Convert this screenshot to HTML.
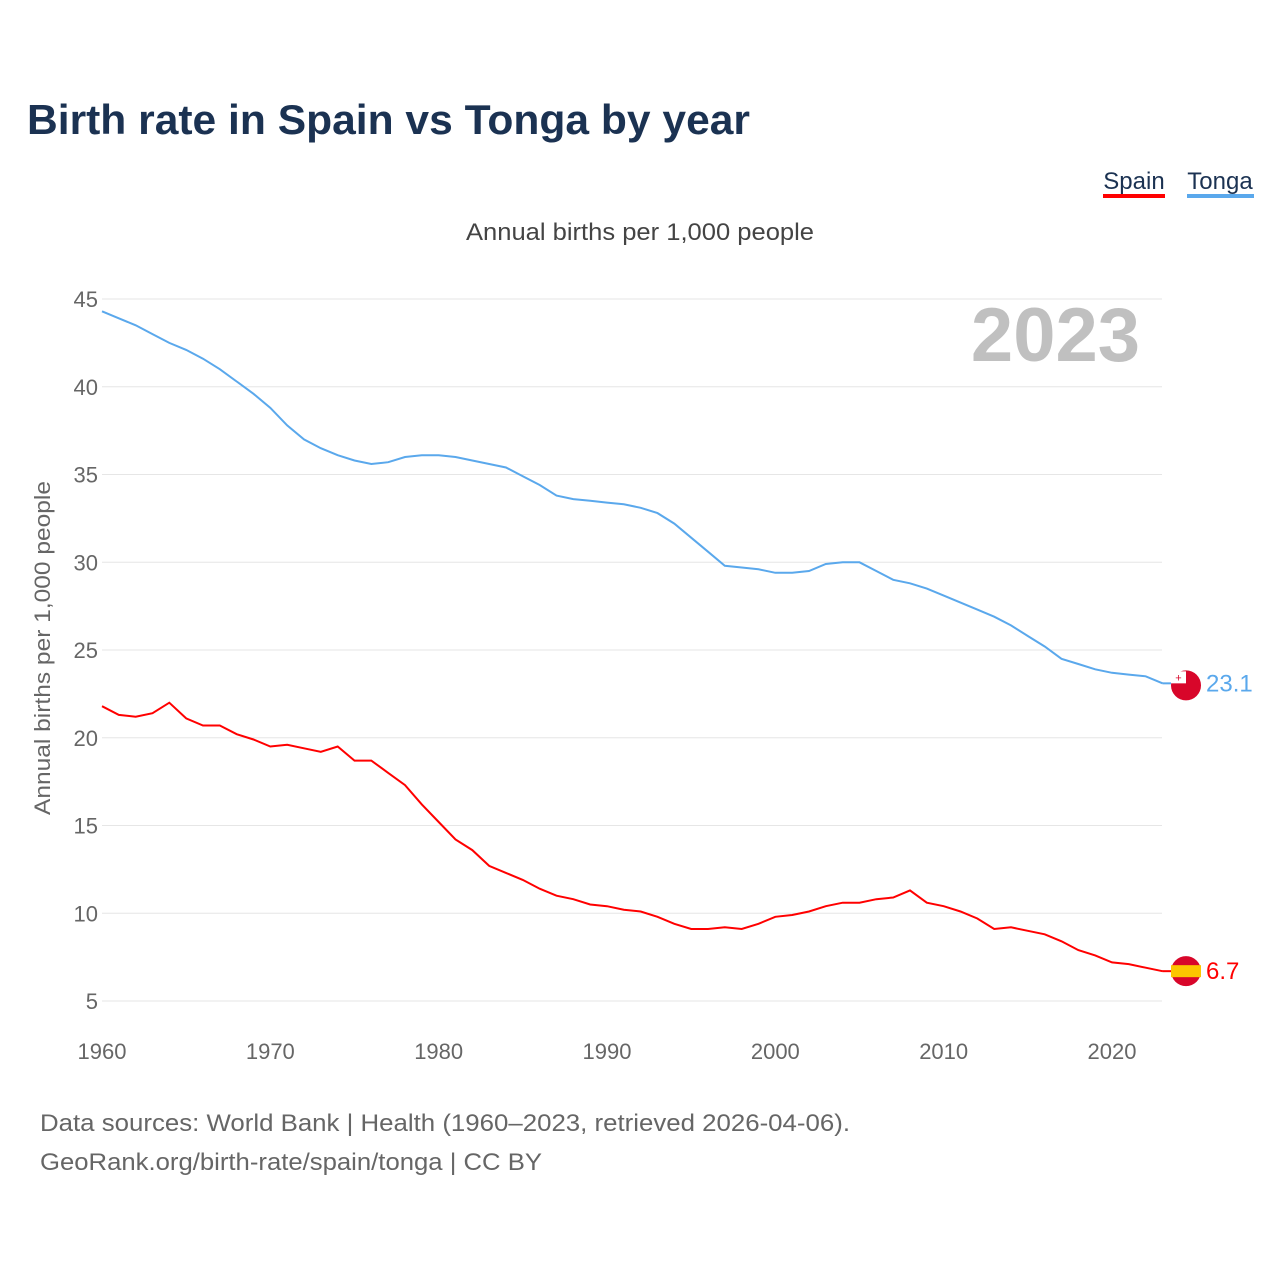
<!DOCTYPE html>
<html><head><meta charset="utf-8">
<style>
body{margin:0;background:#fff;font-family:"Liberation Sans",sans-serif;}
#wrap{position:relative;width:1280px;height:1280px;overflow:hidden;}
</style></head>
<body>
<div id="wrap">
<svg id="chart" width="1280" height="1280"></svg>
</div>
<script>
const years=[];for(let y=1960;y<=2023;y++)years.push(y);
const spain=[21.8,21.3,21.2,21.4,22.0,21.1,20.7,20.7,20.2,19.9,19.5,19.6,19.4,19.2,19.5,18.7,18.7,18.0,17.3,16.2,15.2,14.2,13.6,12.7,12.3,11.9,11.4,11.0,10.8,10.5,10.4,10.2,10.1,9.8,9.4,9.1,9.1,9.2,9.1,9.4,9.8,9.9,10.1,10.4,10.6,10.6,10.8,10.9,11.3,10.6,10.4,10.1,9.7,9.1,9.2,9.0,8.8,8.4,7.9,7.6,7.2,7.1,6.9,6.7];
const tonga=[44.3,43.9,43.5,43.0,42.5,42.1,41.6,41.0,40.3,39.6,38.8,37.8,37.0,36.5,36.1,35.8,35.6,35.7,36.0,36.1,36.1,36.0,35.8,35.6,35.4,34.9,34.4,33.8,33.6,33.5,33.4,33.3,33.1,32.8,32.2,31.4,30.6,29.8,29.7,29.6,29.4,29.4,29.5,29.9,30.0,30.0,29.5,29.0,28.8,28.5,28.1,27.7,27.3,26.9,26.4,25.8,25.2,24.5,24.2,23.9,23.7,23.6,23.5,23.1];
const yTicks=[5,10,15,20,25,30,35,40,45];
const xTicks=[1960,1970,1980,1990,2000,2010,2020];
const X=v=>102+(v-1960)*(1010/60);
const Y=v=>299+(45-v)*(702/40);
const NS="http://www.w3.org/2000/svg";
const svg=document.getElementById('chart');
function mk(t,a,txt){const e=document.createElementNS(NS,t);for(const k in a)e.setAttribute(k,a[k]);if(txt!==undefined)e.textContent=txt;svg.appendChild(e);return e;}
let e;
e=mk('text',{x:27,y:134,'font-size':42,'font-weight':'bold',fill:'#1b3252',textLength:723,lengthAdjust:'spacingAndGlyphs'},'Birth rate in Spain vs Tonga by year');


e=mk('text',{x:640,y:240,'font-size':24,fill:'#444','text-anchor':'middle',textLength:348,lengthAdjust:'spacingAndGlyphs'},'Annual births per 1,000 people');


e=mk('text',{x:1134,y:189,'font-size':24,fill:'#1b3252','text-anchor':'middle'},'Spain');


mk('rect',{x:1103,y:194,width:62,height:4,fill:'#f00'});
e=mk('text',{x:1220,y:189,'font-size':24,fill:'#1b3252','text-anchor':'middle'},'Tonga');


mk('rect',{x:1187,y:194,width:67,height:4,fill:'#5aa8ec'});
yTicks.forEach(t=>{
 e=mk('line',{x1:102,x2:1162,y1:Y(t),y2:Y(t),stroke:'#e6e6e6','stroke-width':1});
 
 
 e=mk('text',{x:98,y:Y(t)+8,'font-size':22,fill:'#666','text-anchor':'end'},t);
 
 
});
xTicks.forEach(t=>{
 e=mk('text',{x:X(t),y:1059,'font-size':22,fill:'#666','text-anchor':'middle'},t);
 
 
});
e=mk('text',{x:0,y:0,'font-size':22,fill:'#666','text-anchor':'middle',transform:'translate(50,648) rotate(-90)',textLength:334,lengthAdjust:'spacingAndGlyphs'},'Annual births per 1,000 people');


e=mk('text',{x:1140,y:361,'font-size':76,'font-weight':'bold',fill:'#c0c0c0','text-anchor':'end'},'2023');


function line(arr,col,name){
 const d=arr.map((v,i)=>(i?'L':'M')+X(years[i]).toFixed(1)+' '+Y(v).toFixed(1)).join(' ');
 const p=mk('path',{d:d,fill:'none',stroke:col,'stroke-width':2});
 
 
}
line(tonga,'#5aa8ec','tonga-line');
line(spain,'#f00','spain-line');
const ty=Y(tonga[tonga.length-1]), sy=Y(spain[spain.length-1]);
mk('line',{x1:X(2023),x2:1172,y1:ty,y2:ty,stroke:'#5aa8ec','stroke-width':2});
mk('line',{x1:X(2023),x2:1172,y1:sy,y2:sy,stroke:'#f00','stroke-width':2});
e=mk('circle',{cx:1186,cy:ty+2,r:15,fill:'#d8062a'});


mk('rect',{x:1171,y:ty-12,width:15,height:12,fill:'#fff'});
mk('text',{x:1178.5,y:ty-2,'font-size':11,fill:'#d8062a','text-anchor':'middle'},'+');
e=mk('circle',{cx:1186,cy:sy,r:15,fill:'#d8062a'});


mk('rect',{x:1171,y:sy-6,width:30,height:12,fill:'#fcc600'});
e=mk('text',{x:1206,y:ty+8,'font-size':24,fill:'#5aa8ec'},tonga[tonga.length-1]);


e=mk('text',{x:1206,y:sy+8,'font-size':24,fill:'#f00'},spain[spain.length-1]);


e=mk('text',{x:40,y:1131,'font-size':24,fill:'#666',textLength:810,lengthAdjust:'spacingAndGlyphs'},'Data sources: World Bank | Health (1960–2023, retrieved 2026-04-06).');


e=mk('text',{x:40,y:1170,'font-size':24,fill:'#666',textLength:502,lengthAdjust:'spacingAndGlyphs'},'GeoRank.org/birth-rate/spain/tonga | CC BY');


</script>
</body></html>
